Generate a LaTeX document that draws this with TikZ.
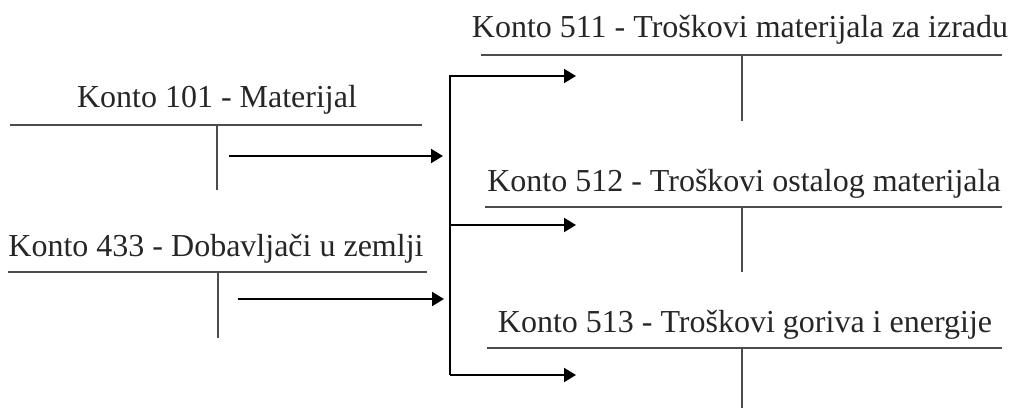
\documentclass[tikz,border=0pt]{standalone}
\usepackage{fontspec}
\setmainfont{Liberation Serif}
\usetikzlibrary{arrows.meta}
\begin{document}
\begin{tikzpicture}[x=1pt,y=-1pt,
  tline/.style={draw=black!70,line width=1.4pt},
  flow/.style={draw=black,line width=2pt,-{Triangle[length=12pt,width=14pt]}},
  lbl/.style={font=\fontsize{32}{38}\selectfont,anchor=base,inner sep=0pt,text=black!85}]
\useasboundingbox (0,0) rectangle (1015,409);
% left accounts
\node[lbl] (t101) at (217,108) {Konto 101 - Materijal};
\coordinate (h101a) at (10,125);
\coordinate (h101b) at (422,125);
\coordinate (v101a) at (217,125);
\coordinate (v101b) at (217,190);
\draw[tline] (h101a) -- (h101b);
\draw[tline] (v101a) -- (v101b);
\node[lbl] (t433) at (216,256) {Konto 433 - Dobavljači u zemlji};
\coordinate (h433a) at (8,272);
\coordinate (h433b) at (427,272);
\coordinate (v433a) at (218,272);
\coordinate (v433b) at (218,338);
\draw[tline] (h433a) -- (h433b);
\draw[tline] (v433a) -- (v433b);
% right accounts
\node[lbl] (t511) at (740,38) {Konto 511 - Troškovi materijala za izradu};
\coordinate (h511a) at (481,55);
\coordinate (h511b) at (1002,55);
\coordinate (v511a) at (742,55);
\coordinate (v511b) at (742,121);
\draw[tline] (h511a) -- (h511b);
\draw[tline] (v511a) -- (v511b);
\node[lbl] (t512) at (744,191) {Konto 512 - Troškovi ostalog materijala};
\coordinate (h512a) at (485,207);
\coordinate (h512b) at (1002,207);
\coordinate (v512a) at (742,207);
\coordinate (v512b) at (742,272);
\draw[tline] (h512a) -- (h512b);
\draw[tline] (v512a) -- (v512b);
\node[lbl] (t513) at (745,332) {Konto 513 - Troškovi goriva i energije};
\coordinate (h513a) at (487,348);
\coordinate (h513b) at (1002,348);
\coordinate (v513a) at (742,348);
\coordinate (v513b) at (742,408);
\draw[tline] (h513a) -- (h513b);
\draw[tline] (v513a) -- (v513b);
% flows
\coordinate (s101) at (229,156);
\coordinate (e101) at (443,156);
\coordinate (s433) at (238,299);
\coordinate (e433) at (444,299);
\draw[flow] (s101) -- (e101);
\draw[flow] (s433) -- (e433);
\coordinate (br1) at (450,76);
\coordinate (br2) at (450,225);
\coordinate (br3) at (450,375);
\coordinate (e511) at (576,76);
\coordinate (e512) at (576,225);
\coordinate (e513) at (576,375);
\draw[flow] (br3) -- (br1) -- (e511);
\draw[flow] (br2) -- (e512);
\draw[flow] (br3) -- (e513);
\end{tikzpicture}
\end{document}
